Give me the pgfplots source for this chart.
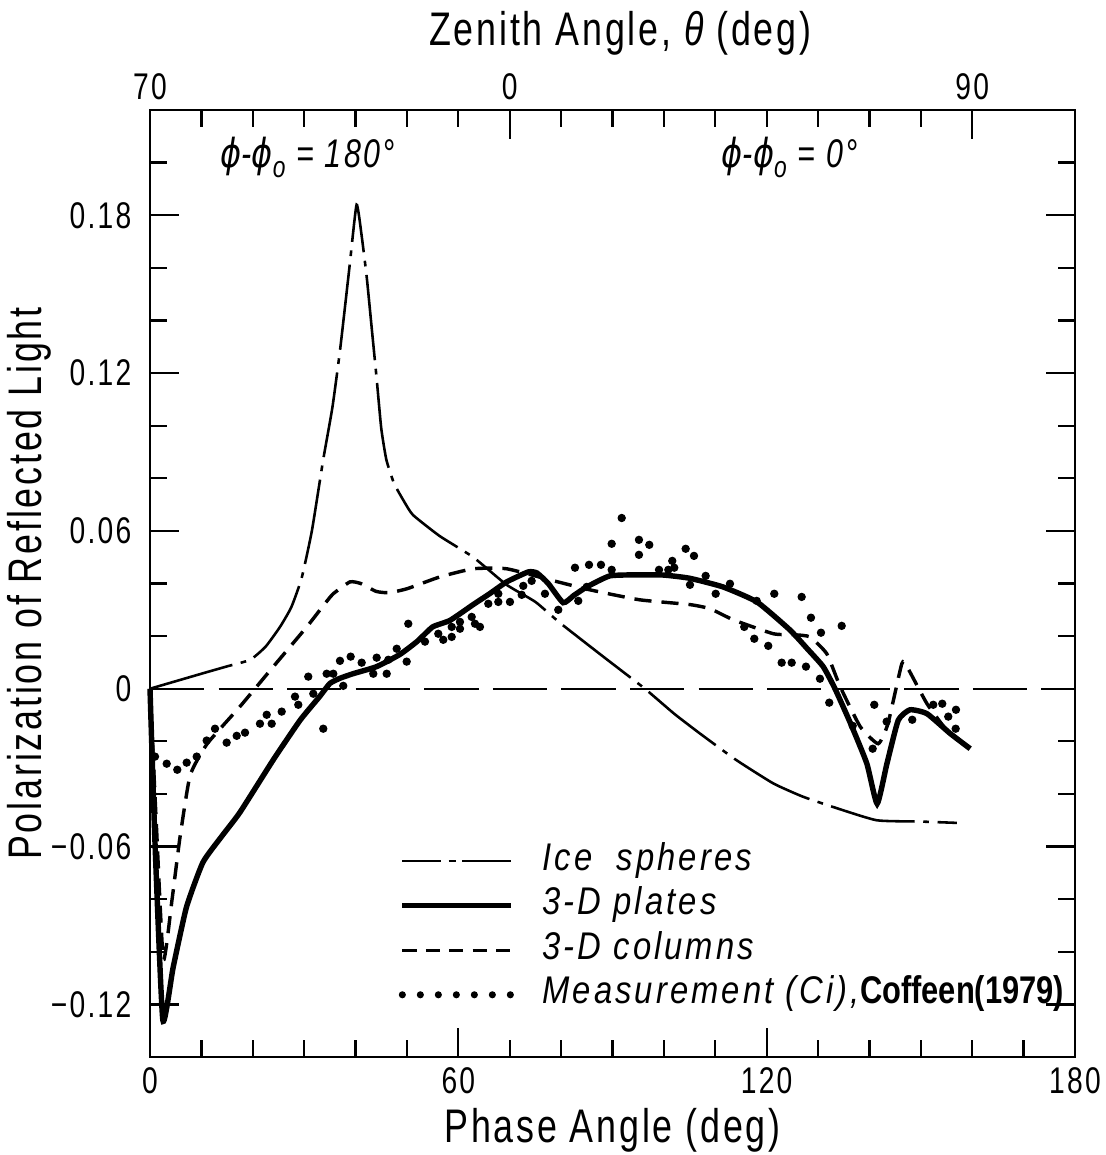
\documentclass[border=0pt]{standalone}
\usepackage{pgfplots}
\pgfplotsset{compat=1.18}
\usepackage{fontspec}
\setmainfont{Liberation Sans}[FakeStretch=0.76, LetterSpace=6]
\newfontfamily\legfamily{Liberation Sans}[FakeStretch=0.85, LetterSpace=8]
\newfontfamily\cofffamily{Liberation Sans}[FakeStretch=0.8]
\newfontfamily\phifont{DejaVu Sans}[FakeStretch=0.8]
\newcommand{\tickfont}{\fontsize{13}{15}\selectfont}
\newcommand{\labfont}{\fontsize{16.5}{19}\selectfont}
\newcommand{\legfont}{\legfamily\fontsize{13.5}{15}\selectfont\itshape}
\newcommand{\myphi}{{\phifont\itshape ϕ}}
\begin{document}
\begin{tikzpicture}
\begin{axis}[
  name=ax,
  scale only axis,
  width=323.75pt, height=331.45pt,
  xmin=0, xmax=180, ymin=-0.14, ymax=0.22,
  xtick={0,60,120,180},
  xticklabels={0,60,120,180},
  minor xtick={10,20,30,40,50,70,80,90,100,110,130,140,150,160,170},
  xtick pos=bottom,
  ytick={-0.12,-0.06,0,0.06,0.12,0.18},
  yticklabels={−0.12,−0.06,0,0.06,0.12,0.18},
  minor ytick={-0.1,-0.08,-0.04,-0.02,0.02,0.04,0.08,0.1,0.14,0.16,0.2},
  ytick pos=both,
  tick align=inside,
  major tick length=10pt, minor tick length=6pt,
  every tick/.style={black, line width=0.8pt},
  axis line style={line width=1pt},
  /pgf/number format/assume math mode=true,
  xticklabel style={font=\tickfont},
  yticklabel style={font=\tickfont, xshift=-3pt},
  clip=false,
  legend style={at={(axis cs:48.3,-0.059)}, anchor=north west, draw=none, fill=none,
    inner sep=0pt, font=\legfont, row sep=4pt,
    nodes={inner sep=0pt, text height=9pt, text depth=2.6pt}},
  legend cell align=left,
]
\coordinate (BL) at (rel axis cs:0,0);
\coordinate (TR) at (rel axis cs:1,1);

% zero line
\addplot[black, line width=0.7pt, dash pattern=on 19pt off 5pt, forget plot] coordinates {(0,0) (180,0)};

% Ice spheres
\addplot[black, line width=0.9pt, smooth, tension=0.3,
  dash pattern=on 30pt off 3pt on 2pt off 3pt,
  legend image code/.code={
    \draw[solid, line width=0.9pt] (0pt,0pt)--(13.4pt,0pt);
    \draw[solid, line width=0.9pt] (16.2pt,0pt)--(18.7pt,0pt);
    \draw[solid, line width=0.9pt] (21pt,0pt)--(38pt,0pt);
    \path[draw=none] (0pt,0pt)--(49pt,0pt);}]
  table {
0 0
10 0.0057
15 0.0085
19.5 0.011
22.5 0.016
25.3 0.0235
27.5 0.031
29.5 0.042
31.5 0.060
33.7 0.087
35.5 0.107
37 0.129
38.8 0.160
40.2 0.184
41.2 0.172
42.2 0.156
43.2 0.136
44.1 0.118
45 0.099
46 0.087
47.5 0.078
49.5 0.071
51.2 0.066
56.4 0.058
62.9 0.050
69.4 0.0395
75 0.033
79.8 0.025
88 0.0125
96.3 0
102 -0.0095
107 -0.017
114 -0.027
121.3 -0.036
127 -0.041
133 -0.045
141.4 -0.050
150 -0.0505
157 -0.051
};
\addlegendentry{Ice \ spheres}

% 3-D plates
\addplot[black, line width=1.9pt, smooth, tension=0.3,
  legend image code/.code={
    \draw[line width=1.9pt] (0pt,0pt)--(38pt,0pt);
    \path[draw=none] (0pt,0pt)--(49pt,0pt);}]
  table {
0 0
1 -0.06
2.5 -0.126
4.5 -0.106
7.1 -0.083
10.3 -0.066
14 -0.056
17.5 -0.047
24 -0.027
29.2 -0.012
33 -0.003
35 0.002
37 0.004
39.5 0.0057
44.1 0.0084
48.6 0.013
52 0.018
55 0.0235
58.4 0.026
62.9 0.032
66 0.036
69.4 0.0406
73.6 0.0444
75.3 0.0440
77.5 0.040
80.4 0.0327
82.5 0.0355
85 0.0387
89.5 0.0429
95.3 0.0433
100 0.0432
105 0.0420
111.5 0.0387
118.1 0.033
124.5 0.0224
128 0.015
131 0.0084
133.3 0
136.5 -0.014
139.5 -0.0285
141.5 -0.0437
143.4 -0.0285
145.6 -0.012
147.9 -0.008
151.2 -0.0095
155.7 -0.017
159.6 -0.0228
};
\addlegendentry{3-D plates}

% 3-D columns
\addplot[black, line width=1.2pt, smooth, tension=0.3,
  dash pattern=on 6pt off 3.5pt,
  legend image code/.code={
    \draw[line width=1.2pt, dash pattern=on 5pt off 3.2pt] (0pt,0pt)--(38pt,0pt);
    \path[draw=none] (0pt,0pt)--(49pt,0pt);}]
  table {
0 0
1.2 -0.05
2.6 -0.103
4.3 -0.08
5.8 -0.057
7.8 -0.033
11.1 -0.021
17.5 -0.0068
24 0.0084
30.5 0.0235
33.5 0.031
35.6 0.036
38.9 0.0406
41 0.0400
44 0.037
46.5 0.0365
50 0.038
56.4 0.0425
62.9 0.0456
69.4 0.0456
77.8 0.0414
85.6 0.0376
95.3 0.0338
105 0.032
109 0.0304
113.5 0.0262
121.3 0.0209
125.5 0.0205
128.4 0.0197
131.7 0.0133
134.3 0.0008
138.2 -0.0144
141.7 -0.0209
143.6 -0.0133
146.3 0.0095
147.3 0.0084
151.2 -0.0057
155 -0.0156
159.6 -0.0228
};
\addlegendentry{3-D columns}

% Measurement
\addplot[black, only marks, mark=*, mark size=1.25pt,
  legend image code/.code={
    \foreach \i in {0,...,6} {\fill[draw=none] (\i*6.3pt,0pt) circle (1.25pt);}
    \path[draw=none] (0pt,0pt)--(49pt,0pt);}]
  table {
0.97 -0.0258
3.25 -0.0285
5.31 -0.0308
7.14 -0.0281
9.09 -0.0258
11.03 -0.0197
12.65 -0.0152
14.92 -0.0205
16.87 -0.0179
18.49 -0.0167
21.40 -0.0133
22.71 -0.0099
23.68 -0.0133
25.63 -0.0087
28.22 -0.0030
28.86 -0.0061
30.80 0.0046
31.78 -0.0019
33.72 -0.0152
34.38 0.0057
35.67 0.0057
36.97 0.0106
37.61 0.0011
39.05 0.0122
41.19 0.0099
43.45 0.0057
44.11 0.0118
46.06 0.0057
46.37 0.0110
48.01 0.0152
49.95 0.0103
50.26 0.0247
53.51 0.0179
56.10 0.0209
57.07 0.0186
58.71 0.0235
58.71 0.0197
60.32 0.0254
60.32 0.0228
62.60 0.0273
63.24 0.0247
64.21 0.0235
65.83 0.0323
67.78 0.0330
67.78 0.0361
70.05 0.0330
72.64 0.0391
74.27 0.0410
72.33 0.0357
76.86 0.0361
79.45 0.0300
83.34 0.0334
84.98 0.0387
82.70 0.0460
85.43 0.0471
87.76 0.0471
89.84 0.0452
89.84 0.0551
91.79 0.0649
95.15 0.0566
95.15 0.0509
97.16 0.0547
99.05 0.0452
100.86 0.0452
101.63 0.0486
102.02 0.0460
104.24 0.0532
105.86 0.0505
105.08 0.0395
108.13 0.0429
110.08 0.0361
112.86 0.0399
115.64 0.0235
118.06 0.0334
117.59 0.0190
120.31 0.0163
121.48 0.0361
122.92 0.0099
124.87 0.0099
126.81 0.0349
127.65 0.0084
128.62 0.0270
130.37 0.0038
130.57 0.0213
132.18 -0.0053
134.60 0.0239
136.74 -0.0141
140.94 -0.0061
140.63 -0.0228
143.35 -0.0125
148.33 -0.0118
152.42 -0.0061
154.17 -0.0057
155.34 -0.0106
156.84 -0.0080
156.78 -0.0152
};
\addlegendentry{Measurement (Ci),{\cofffamily\upshape\bfseries\fontsize{13.5}{15}\selectfont Coffeen(1979)}}

% texts
\node[font=\labfont] at ([yshift=-25.5pt]rel axis cs:0.5,0) {Phase Angle (deg)};
\node[font=\labfont, rotate=90] at ([xshift=-42.4pt]rel axis cs:0,0.5) {Polarization of Reflected Light};
\node[font=\labfont] at ([yshift=27pt]axis cs:91.5,0.22) {Zenith Angle, {\itshape θ} (deg)};
\node[font=\fontsize{14}{16}\selectfont\itshape] at (axis cs:30.7,0.202) {\myphi-\myphi\raisebox{-0.45ex}{\fontsize{10.5}{12}\selectfont o} = 180°};
\node[font=\fontsize{14}{16}\selectfont\itshape] at (axis cs:124.5,0.202) {\myphi-\myphi\raisebox{-0.45ex}{\fontsize{10.5}{12}\selectfont o} = 0°};
\end{axis}

\begin{axis}[
  scale only axis,
  width=323.75pt, height=331.45pt,
  xmin=0, xmax=180, ymin=-0.14, ymax=0.22,
  axis x line*=top, axis y line=none,
  xtick={0,70,160},
  xticklabels={70,0,90},
  minor xtick={10,20,30,40,50,60,80,90,100,110,120,130,140,150},
  tick align=inside,
  major tick length=10pt, minor tick length=6pt,
  every tick/.style={black, line width=0.8pt},
  axis line style={line width=1pt},
  xticklabel style={font=\tickfont},
]
\end{axis}
\pgfresetboundingbox
\path ([shift={(-52.5pt,-34.3pt)}]BL) rectangle ([shift={(10.85pt,38.5pt)}]TR);
\end{tikzpicture}
\end{document}
